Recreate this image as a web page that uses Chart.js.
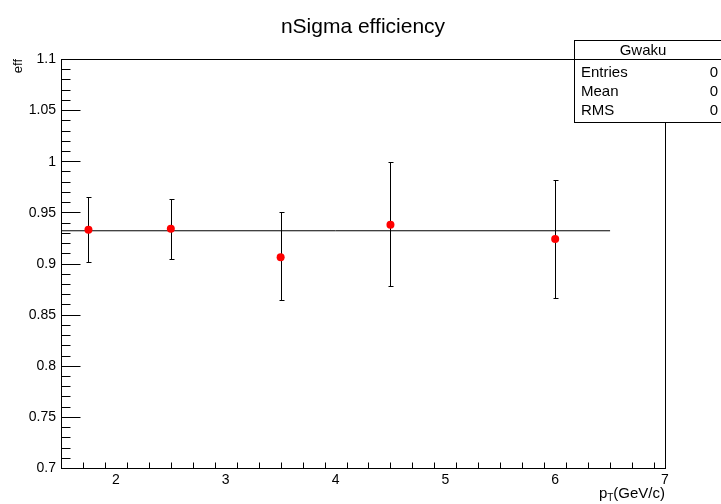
<!DOCTYPE html>
<html>
<head>
<meta charset="utf-8">
<script src="https://cdn.jsdelivr.net/npm/chart.js@4/dist/chart.umd.min.js"></script>
<style>
  body { margin: 0; background: #fff; }
  canvas { display: block; }
</style>
</head>
<body>
<canvas id="effChart" width="721" height="504"></canvas>
<script>
// measured points (pT bin centers) and efficiency
const ptBins = [1.75, 2.5, 3.5, 4.5, 6];
const effValues = [0.933, 0.934, 0.906, 0.938, 0.924];
const effHigh = [0.965, 0.963, 0.950, 0.999, 0.982];
const effLow = [0.901, 0.904, 0.864, 0.878, 0.866];

// constant fit
const fitX = [1.5, 6.5];
const fitY = [0.932, 0.932];

// axis tick labels
const xTicks = [2, 3, 4, 5, 6, 7];
const yTicks = [0.7, 0.75, 0.8, 0.85, 0.9, 0.95, 1, 1.05, 1.1];

// stat box
const statTitle = "Gwaku";
const statLabels = ["Entries", "Mean", "RMS"];
const statValues = ["0", "0", "0"];

const FONT = "'Liberation Sans', Arial, Helvetica, sans-serif";

const rootStyle = {
  id: "rootStyle",
  beforeDatasetsDraw(chart) {
    const ctx = chart.ctx;
    const a = chart.chartArea;
    const xs = chart.scales.x;
    const ys = chart.scales.y;
    const px = (v) => Math.round(xs.getPixelForValue(v)) + 0.5;
    const py = (v) => Math.round(ys.getPixelForValue(v)) + 0.5;
    const L = Math.round(a.left) + 0.5, R = Math.round(a.right) + 0.5;
    const T = Math.round(a.top) + 0.5, B = Math.round(a.bottom) + 0.5;

    ctx.save();
    ctx.strokeStyle = "#000";
    ctx.lineWidth = 1;
    ctx.strokeRect(L, T, R - L, B - T);

    // ticks
    ctx.beginPath();
    for (let i = 0; i <= 40; i++) {
      const v = 0.7 + i * 0.01;
      const y = py(v);
      const len = i % 5 === 0 ? 19 : 9;
      ctx.moveTo(L, y);
      ctx.lineTo(L + len, y);
    }
    for (let i = 1; i <= 27; i++) {
      const v = 1.5 + i * 0.2;
      const x = px(v);
      const len = Math.abs(v - Math.round(v)) < 1e-6 ? 12 : 6;
      ctx.moveTo(x, B);
      ctx.lineTo(x, B - len);
    }
    ctx.stroke();

    // tick labels
    ctx.fillStyle = "#000";
    ctx.font = "14px " + FONT;
    ctx.textAlign = "right";
    ctx.textBaseline = "middle";
    yTicks.forEach((v) => ctx.fillText(String(v), 56, ys.getPixelForValue(v) + 0.5));
    ctx.textAlign = "center";
    ctx.textBaseline = "top";
    xTicks.forEach((v) => ctx.fillText(String(v), xs.getPixelForValue(v), 473));

    // axis titles
    ctx.font = "15px " + FONT;
    ctx.textAlign = "right";
    ctx.textBaseline = "alphabetic";
    const rest = "(GeV/c)";
    const wRest = ctx.measureText(rest).width;
    ctx.fillText(rest, 665, 498);
    ctx.font = "10px " + FONT;
    const wT = ctx.measureText("T").width;
    ctx.fillText("T", 665 - wRest, 501);
    ctx.font = "15px " + FONT;
    ctx.fillText("p", 665 - wRest - wT, 498);

    ctx.save();
    ctx.translate(22, 59);
    ctx.rotate(-Math.PI / 2);
    ctx.font = "13px " + FONT;
    ctx.textAlign = "right";
    ctx.fillText("eff", 0, 0);
    ctx.restore();

    // title
    ctx.font = "21px " + FONT;
    ctx.textAlign = "center";
    ctx.fillText("nSigma efficiency", 363, 33);

    // error bars
    ctx.beginPath();
    ptBins.forEach((v, i) => {
      const x = px(v);
      const yh = py(effHigh[i]), yl = py(effLow[i]);
      ctx.moveTo(x, yh);
      ctx.lineTo(x, yl);
      ctx.moveTo(x - 2, yh);
      ctx.lineTo(x + 3, yh);
      ctx.moveTo(x - 2, yl);
      ctx.lineTo(x + 3, yl);
    });
    ctx.stroke();
    ctx.restore();
  },
  afterDraw(chart) {
    const ctx = chart.ctx;
    ctx.save();
    const bx = 574.5, by = 40.5, bw = 160, bh = 82;
    ctx.fillStyle = "#fff";
    ctx.fillRect(bx, by, bw, bh);
    ctx.strokeStyle = "#000";
    ctx.lineWidth = 1;
    ctx.strokeRect(bx, by, bw, bh);
    ctx.beginPath();
    ctx.moveTo(bx, 59.5);
    ctx.lineTo(bx + bw, 59.5);
    ctx.stroke();
    ctx.fillStyle = "#000";
    ctx.font = "15px " + FONT;
    ctx.textBaseline = "middle";
    ctx.textAlign = "center";
    ctx.fillText(statTitle, 643, 51);
    statLabels.forEach((lab, i) => {
      const y = 73 + i * 19;
      ctx.textAlign = "left";
      ctx.fillText(lab, 581, y);
      ctx.textAlign = "right";
      ctx.fillText(statValues[i], 718, y);
    });
    ctx.restore();
  }
};

new Chart(document.getElementById("effChart").getContext("2d"), {
  type: "scatter",
  data: {
    datasets: [
      {
        label: "fit",
        data: fitX.map((x, i) => ({ x: x, y: fitY[i] })),
        showLine: true,
        borderColor: "#000",
        borderWidth: 1,
        pointRadius: 0,
        order: 2
      },
      {
        label: "eff",
        data: ptBins.map((x, i) => ({ x: x, y: effValues[i] })),
        backgroundColor: "#ff0000",
        borderColor: "#ff0000",
        pointRadius: 4,
        borderWidth: 0,
        order: 1
      }
    ]
  },
  options: {
    responsive: false,
    animation: false,
    devicePixelRatio: 1,
    layout: { padding: { left: 61, right: 56, top: 59, bottom: 36 } },
    plugins: { legend: { display: false }, tooltip: { enabled: false } },
    scales: {
      x: { type: "linear", min: 1.5, max: 7, display: false },
      y: { type: "linear", min: 0.7, max: 1.1, display: false }
    }
  },
  plugins: [rootStyle]
});
</script>
</body>
</html>
